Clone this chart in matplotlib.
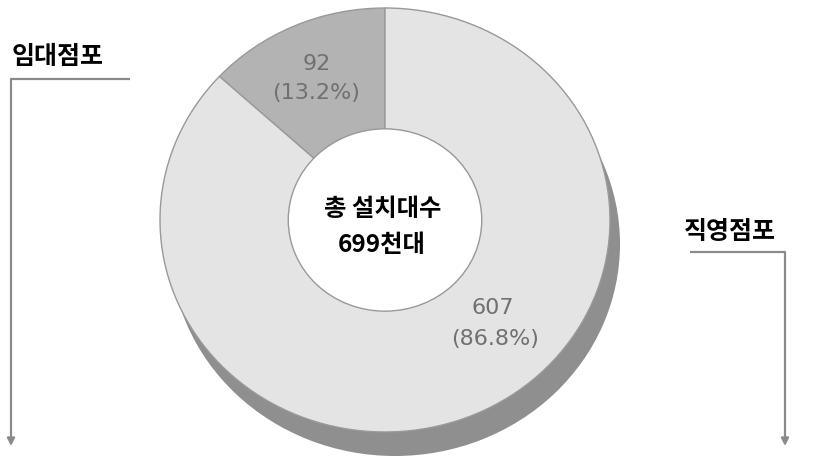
import matplotlib
matplotlib.use("Agg")
import matplotlib.pyplot as plt
from matplotlib.patches import Ellipse

plt.rcParams["font.family"] = ["Noto Sans CJK KR", "DejaVu Sans"]

# store types and installed machines (thousands)
store_types = ["임대점포", "직영점포"]
counts = [92, 607]
shares = [13.2, 86.8]
total_label = "총 설치대수"
total_value = "699천대"

W, H = 835, 470
fig = plt.figure(figsize=(W / 100, H / 100), dpi=100)
fig.patch.set_facecolor("white")

# donut geometry in pixels (slightly wider than tall)
cx, cy = 385, 220
rx, ry = 225, 212
pad = 1.15


def px_box(x0, y0, w, h):
    return [x0 / W, 1 - (y0 + h) / H, w / W, h / H]


pie_ax = fig.add_axes(px_box(cx - pad * rx, cy - pad * ry, 2 * pad * rx, 2 * pad * ry))
hole = 0.43

# drop shadow underneath the ring
sx, sy = 10 / rx, -24 / ry
pie_ax.pie([1], radius=1, center=(sx, sy), colors=["#8f8f8f"], frame=True,
           wedgeprops=dict(edgecolor="none"))

pie_ax.pie(counts, radius=1, startangle=90, counterclock=True, frame=True,
           colors=["#b3b3b3", "#e4e4e4"],
           wedgeprops=dict(edgecolor="#999999", linewidth=1.0))
pie_ax.add_patch(Ellipse((0, 0), 2 * hole, 2 * hole, facecolor="white",
                         edgecolor="#999999", linewidth=1.0, zorder=5))
pie_ax.set_xlim(-pad, pad)
pie_ax.set_ylim(-pad, pad)
pie_ax.set_aspect("auto")
pie_ax.axis("off")

# overlay in pixel coordinates for labels and arrows
ax = fig.add_axes([0, 0, 1, 1])
ax.set_xlim(0, W)
ax.set_ylim(H, 0)
ax.axis("off")
ax.patch.set_alpha(0)

val_style = dict(ha="center", va="center", color="#707070", fontsize=16,
                 family=["DejaVu Sans"])
ax.text(317, 64, f"{counts[0]}", **val_style)
ax.text(316, 93, f"({shares[0]}%)", **val_style)
ax.text(493, 308, f"{counts[1]}", **val_style)
ax.text(495, 339, f"({shares[1]}%)", **val_style)

center_style = dict(ha="center", va="center", color="black", fontsize=17.5,
                    fontweight="bold")
ax.text(383, 209, total_label, **center_style)
ax.text(382, 245, total_value, **center_style)

line_col = "#8a8a8a"
lab_style = dict(ha="center", va="center", color="black", fontsize=18,
                 fontweight="bold")

# left: rental stores
ax.text(58, 57, store_types[0], **lab_style)
ax.plot([11, 130], [79, 79], color=line_col, lw=1.6, solid_capstyle="butt")
ax.annotate("", xy=(11, 446), xytext=(11, 79),
            arrowprops=dict(arrowstyle="-|>", color=line_col, lw=1.6,
                            mutation_scale=11, shrinkA=0, shrinkB=0))

# right: direct stores
ax.text(730, 232, store_types[1], **lab_style)
ax.plot([690, 785], [252, 252], color=line_col, lw=1.6, solid_capstyle="butt")
ax.annotate("", xy=(785, 446), xytext=(785, 252),
            arrowprops=dict(arrowstyle="-|>", color=line_col, lw=1.6,
                            mutation_scale=11, shrinkA=0, shrinkB=0))

fig.savefig("out.png", dpi=100, facecolor="white")
